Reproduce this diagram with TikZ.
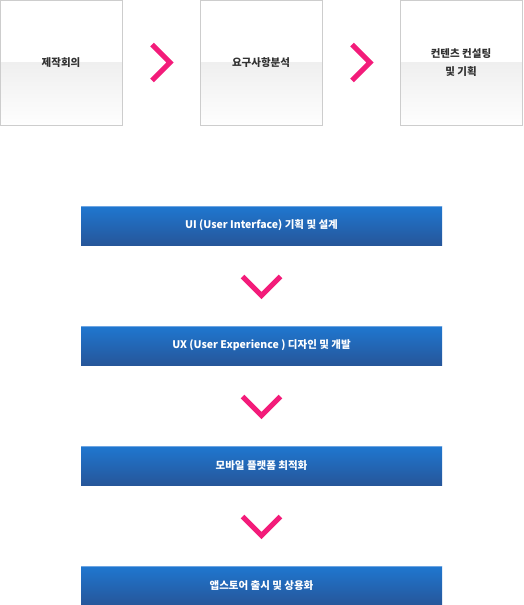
\documentclass[tikz,border=0pt]{standalone}
\usepackage{fontspec}
\setmainfont{Noto Sans CJK KR}
\usepackage{tikz}
\usetikzlibrary{calc}
\usetikzlibrary{positioning}
\usetikzlibrary{shadows}
\definecolor{chevronpink}{RGB}{243,28,122}
\definecolor{bartop}{RGB}{31,119,208}
\definecolor{barbottom}{RGB}{38,86,154}
\definecolor{barline}{RGB}{110,165,225}
\definecolor{boxline}{RGB}{205,205,205}
\definecolor{boxgray}{RGB}{224,224,224}
\definecolor{boxtext}{RGB}{50,50,50}
\tikzset{
  stage/.style = {
    draw = boxline, fill = white,
    minimum width = 122pt, minimum height = 125pt,
    inner sep = 0, outer sep = 0,
    align = center, text = boxtext,
    font = \fontsize{10.5}{18}\selectfont\bfseries,
    drop shadow = {shadow xshift = 1.2pt, shadow yshift = -1.2pt, opacity = .25},
    path picture = {
      \shade[top color = boxgray, bottom color = white!97!boxgray]
        (path picture bounding box.west) rectangle (path picture bounding box.south east);
    },
  },
  phase/.style = {
    minimum width = 361pt, minimum height = 39pt,
    inner sep = 0, outer sep = 0,
    top color = bartop, bottom color = barbottom,
    text = white,
    font = \fontsize{10.5}{12}\selectfont\bfseries,
  },
  chevron/.style = {
    draw = chevronpink, line width = 5pt,
    line cap = butt, line join = miter,
  },
}
\begin{document}
\begin{tikzpicture}[x = 1pt, y = -1pt, node distance = 78pt]
  \useasboundingbox (0,0) rectangle (524,605);
  % top row
  \node[stage] (meeting) at (61,62.5) {제작회의};
  \node[stage, right = of meeting] (analysis) {요구사항분석};
  \node[stage, right = of analysis] (consulting) {컨텐츠 컨설팅\\및 기획};
  \draw[chevron] ($(meeting.east)!0.5!(analysis.west)$) ++(-9,-18) -- ++(18,18) -- ++(-18,18);
  \draw[chevron] ($(analysis.east)!0.5!(consulting.west)$) ++(-9,-18) -- ++(18,18) -- ++(-18,18);
  % steps
  \node[phase] (ui) at (261.5,225.5) {UI (User Interface) 기획 및 설계};
  \node[phase, below = 81pt of ui] (ux) {UX (User Experience ) 디자인 및 개발};
  \node[phase, below = 81pt of ux] (mobile) {모바일 플랫폼 최적화};
  \node[phase, below = 81pt of mobile] (store) {앱스토어 출시 및 상용화};
  \foreach \a/\b in {ui/ux, ux/mobile, mobile/store}
  {
    \draw[barline, line width = 1pt] ([yshift = -.5pt]\b.north west) -- ([yshift = -.5pt]\b.north east);
    \draw[chevron] ($(\a.south)!0.5!(\b.north)$) ++(-19,-9) -- ++(19,19) -- ++(19,-19);
  }
  \draw[barline, line width = 1pt] ([yshift = -.5pt]ui.north west) -- ([yshift = -.5pt]ui.north east);
\end{tikzpicture}
\end{document}
